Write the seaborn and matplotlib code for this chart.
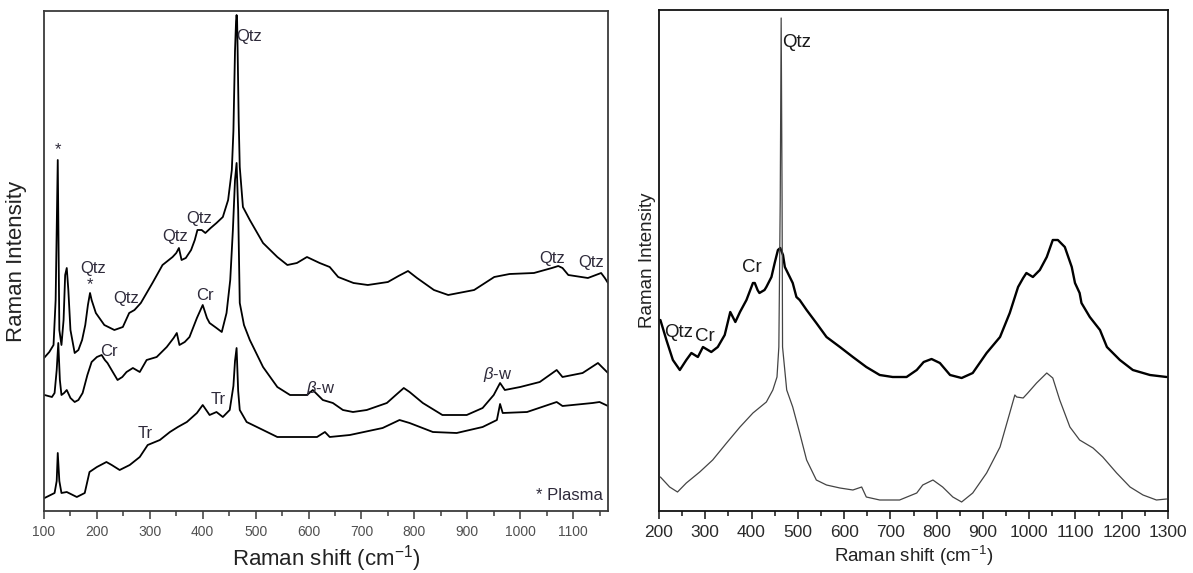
import pandas as pd
import seaborn as sns
import matplotlib.pyplot as plt
from matplotlib.ticker import MultipleLocator

# ---- left panel: three spectra (shift in cm-1, intensity in a.u.) ----
left_top_shift = [100, 110, 118, 122, 126, 129, 133, 137, 140, 143, 146, 150, 158, 165, 172, 178,
                  183, 187, 190, 198, 214, 233, 249, 261, 271, 283, 305, 324, 343, 350, 355, 360,
                  368, 378, 385, 390, 398, 405, 415, 426, 438, 448, 455, 458, 461, 463, 464, 465,
                  466, 468, 470, 476, 489, 514, 541, 560, 578, 597, 621, 640, 656, 685, 712, 750,
                  770, 788, 805, 837, 864, 913, 951, 980, 1026, 1060, 1072, 1080, 1091, 1128, 1153,
                  1160, 1166]
left_top_int = [153, 159, 166, 211, 351, 181, 166, 191, 236, 243, 221, 181, 158, 161, 171, 186,
                206, 218, 211, 198, 186, 181, 184, 198, 201, 208, 228, 246, 254, 258, 263, 251,
                253, 261, 271, 281, 281, 278, 283, 288, 294, 311, 341, 380, 460, 490, 496, 490,
                460, 390, 344, 304, 291, 268, 254, 246, 248, 254, 248, 244, 234, 228, 226, 229,
                235, 240, 233, 221, 216, 221, 234, 237, 238, 243, 245, 243, 236, 233, 238,
                233, 228]

left_mid_shift = [101, 115, 120, 124, 127, 130, 133, 138, 143, 150, 158, 165, 173, 182, 190, 200,
                  209, 215, 220, 230, 239, 248, 256, 268, 281, 294, 313, 332, 345, 351, 356, 366,
                  375, 389, 400, 408, 413, 426, 436, 445, 452, 457, 461, 464, 467, 470, 478, 489,
                  514, 541, 565, 597, 608, 627, 646, 665, 684, 710, 748, 765, 780, 791, 816, 853,
                  899, 929, 950, 962, 971, 1000, 1037, 1069, 1080, 1118, 1147, 1166]
left_mid_int = [116, 114, 118, 141, 168, 131, 116, 118, 121, 113, 109, 111, 118, 136, 149, 154,
                156, 151, 148, 139, 131, 134, 139, 143, 139, 151, 154, 164, 173, 178, 166, 169,
                174, 193, 206, 193, 188, 183, 179, 198, 231, 281, 331, 348, 301, 208, 186, 171,
                144, 124, 116, 116, 121, 111, 108, 101, 99, 101, 108, 116, 123, 119, 108, 96,
                96, 103, 116, 128, 121, 124, 129, 141, 134, 138, 148, 138]

left_bot_shift = [101, 120, 124, 126, 129, 133, 143, 162, 177, 186, 200, 218, 228, 243, 262, 281,
                  296, 319, 338, 353, 370, 389, 400, 413, 426, 438, 451, 458, 461, 464, 467, 470,
                  483, 514, 541, 583, 616, 631, 640, 678, 740, 772, 791, 835, 880, 929, 956, 962,
                  967, 1013, 1069, 1080, 1137, 1150, 1166]
left_bot_int = [13, 18, 30, 58, 30, 18, 19, 14, 18, 39, 44, 49, 46, 41, 46, 54,
                66, 71, 79, 84, 89, 98, 106, 96, 99, 94, 101, 125, 150, 163, 120, 101,
                89, 81, 74, 74, 74, 79, 74, 76, 83, 91, 88, 79, 78, 84, 91, 107,
                98, 99, 109, 105, 108, 109, 105]

# ---- right panel: two spectra ----
right_top_shift = [203, 216, 230, 245, 259, 270, 284, 295, 313, 327, 342, 354, 365, 375, 389, 403,
                   407, 413, 417, 428, 432, 443, 450, 457, 462, 468, 472, 489, 497, 504, 519, 540,
                   562, 591, 619, 648, 677, 705, 735, 757, 772, 789, 807, 829, 854, 878, 908, 937,
                   958, 976, 987, 994, 1008, 1023, 1038, 1051, 1062, 1077, 1092, 1099, 1109, 1113,
                   1131, 1153, 1168, 1196, 1224, 1261, 1297]
right_top_int = [191, 171, 151, 141, 151, 158, 154, 164, 159, 164, 176, 199, 189, 199, 211, 228,
                 228, 221, 218, 221, 224, 234, 248, 261, 263, 256, 244, 228, 214, 211, 201, 188,
                 174, 164, 154, 144, 136, 134, 134, 141, 149, 152, 148, 136, 133, 138, 158, 174,
                 198, 224, 233, 238, 234, 241, 254, 271, 271, 264, 244, 228, 218, 208,
                 194, 181, 164, 151, 141, 136, 134]

right_bot_shift = [203, 223, 240, 259, 288, 316, 346, 375, 403, 432, 446, 455, 459, 462, 464, 466,
                   467, 476, 489, 504, 519, 540, 562, 591, 619, 638, 648, 677, 720, 757, 770, 792,
                   813, 835, 854, 878, 908, 937, 958, 969, 973, 987, 997, 1016, 1038, 1051, 1066,
                   1088, 1109, 1138, 1159, 1189, 1218, 1246, 1275, 1297]
right_bot_int = [34, 24, 19, 28, 39, 51, 68, 84, 98, 109, 121, 134, 164, 311, 493, 311,
                 164, 121, 104, 78, 51, 31, 26, 23, 21, 24, 14, 11, 11, 18, 26, 31,
                 24, 14, 9, 18, 38, 64, 98, 116, 114, 113, 118, 128, 138, 133, 111,
                 84, 71, 63, 54, 38, 24, 16, 11, 12]

# peak labels: (text, shift, intensity, ha)
left_labels = [('*', 126, 361, 'center'), ('Qtz', 464, 475, 'left'), ('Qtz', 394, 293, 'center'),
               ('Qtz', 348, 275, 'center'), ('Qtz', 193, 242, 'center'), ('*', 186, 226, 'center'),
               ('Qtz', 256, 213, 'center'), ('Cr', 404, 215, 'center'), ('Cr', 222, 159, 'center'),
               ('Tr', 429, 111, 'center'), ('Tr', 291, 77, 'center'),
               (r'$\beta$-w', 624, 123, 'center'), (r'$\beta$-w', 957, 137, 'center'),
               ('Qtz', 1060, 253, 'center'), ('Qtz', 1135, 248, 'center'),
               ('* Plasma', 1156, 16, 'right')]
right_labels = [('Qtz', 467, 469, 'left'), ('Cr', 401, 244, 'center'),
                ('Qtz', 212, 179, 'left'), ('Cr', 299, 175, 'center')]

sns.set_theme(style='ticks')
plt.rcParams['font.family'] = ['Liberation Sans', 'DejaVu Sans']
plt.rcParams['mathtext.fontset'] = 'custom'
plt.rcParams['mathtext.rm'] = 'Liberation Sans'
plt.rcParams['mathtext.it'] = 'Liberation Sans:italic'

fig = plt.figure(figsize=(11.93, 5.73), dpi=100)
ax1 = fig.add_axes([44 / 1193, 1 - 511 / 573, 564 / 1193, 500 / 573])
ax2 = fig.add_axes([659 / 1193, 1 - 511 / 573, 509 / 1193, 501 / 573])

for xs, ys in [(left_top_shift, left_top_int), (left_mid_shift, left_mid_int),
               (left_bot_shift, left_bot_int)]:
    sns.lineplot(x=xs, y=ys, ax=ax1, color='black', lw=1.3, sort=False, estimator=None)

sns.lineplot(x=right_top_shift, y=right_top_int, ax=ax2, color='black', lw=1.7,
             sort=False, estimator=None)
sns.lineplot(x=right_bot_shift, y=right_bot_int, ax=ax2, color='#444444', lw=0.9,
             sort=False, estimator=None)

for txt, x, y, ha in left_labels:
    ax1.text(x, y, txt, ha=ha, va='center', fontsize=12, color='#2e2a3a')
for txt, x, y, ha in right_labels:
    ax2.text(x, y, txt, ha=ha, va='center', fontsize=13.5, color='#1a1a1a')

ax1.set_xlim(100, 1166)
ax1.set_ylim(0, 500)
ax1.set_xticks(range(100, 1101, 100))
ax2.set_xlim(200, 1300)
ax2.set_ylim(0, 501)
ax2.set_xticks(range(200, 1301, 100))

for ax, fs, lfs, col, pad, sc in [(ax1, 10, 16, '#505050', 12, '#3a3a3a'),
                                  (ax2, 12.5, 13.5, '#2a2a2a', 2, '#111111')]:
    ax.xaxis.set_minor_locator(MultipleLocator(50))
    ax.set_yticks([])
    ax.tick_params(axis='x', which='major', length=6, width=1.1, direction='out',
                   labelsize=fs, labelcolor=col, color=sc, pad=4)
    ax.tick_params(axis='x', which='minor', length=3.5, width=1.1, direction='out',
                   color=sc)
    for s in ax.spines.values():
        s.set_visible(True)
        s.set_color(sc)
        s.set_linewidth(1.3)
    ax.set_xlabel(r'Raman shift (cm$^{\mathregular{-1}}$)', fontsize=lfs, color='#222222',
                  labelpad=3)
    ax.set_ylabel('Raman Intensity', fontsize=lfs, color='#222222', labelpad=pad)

fig.savefig('out.png', dpi=100)
